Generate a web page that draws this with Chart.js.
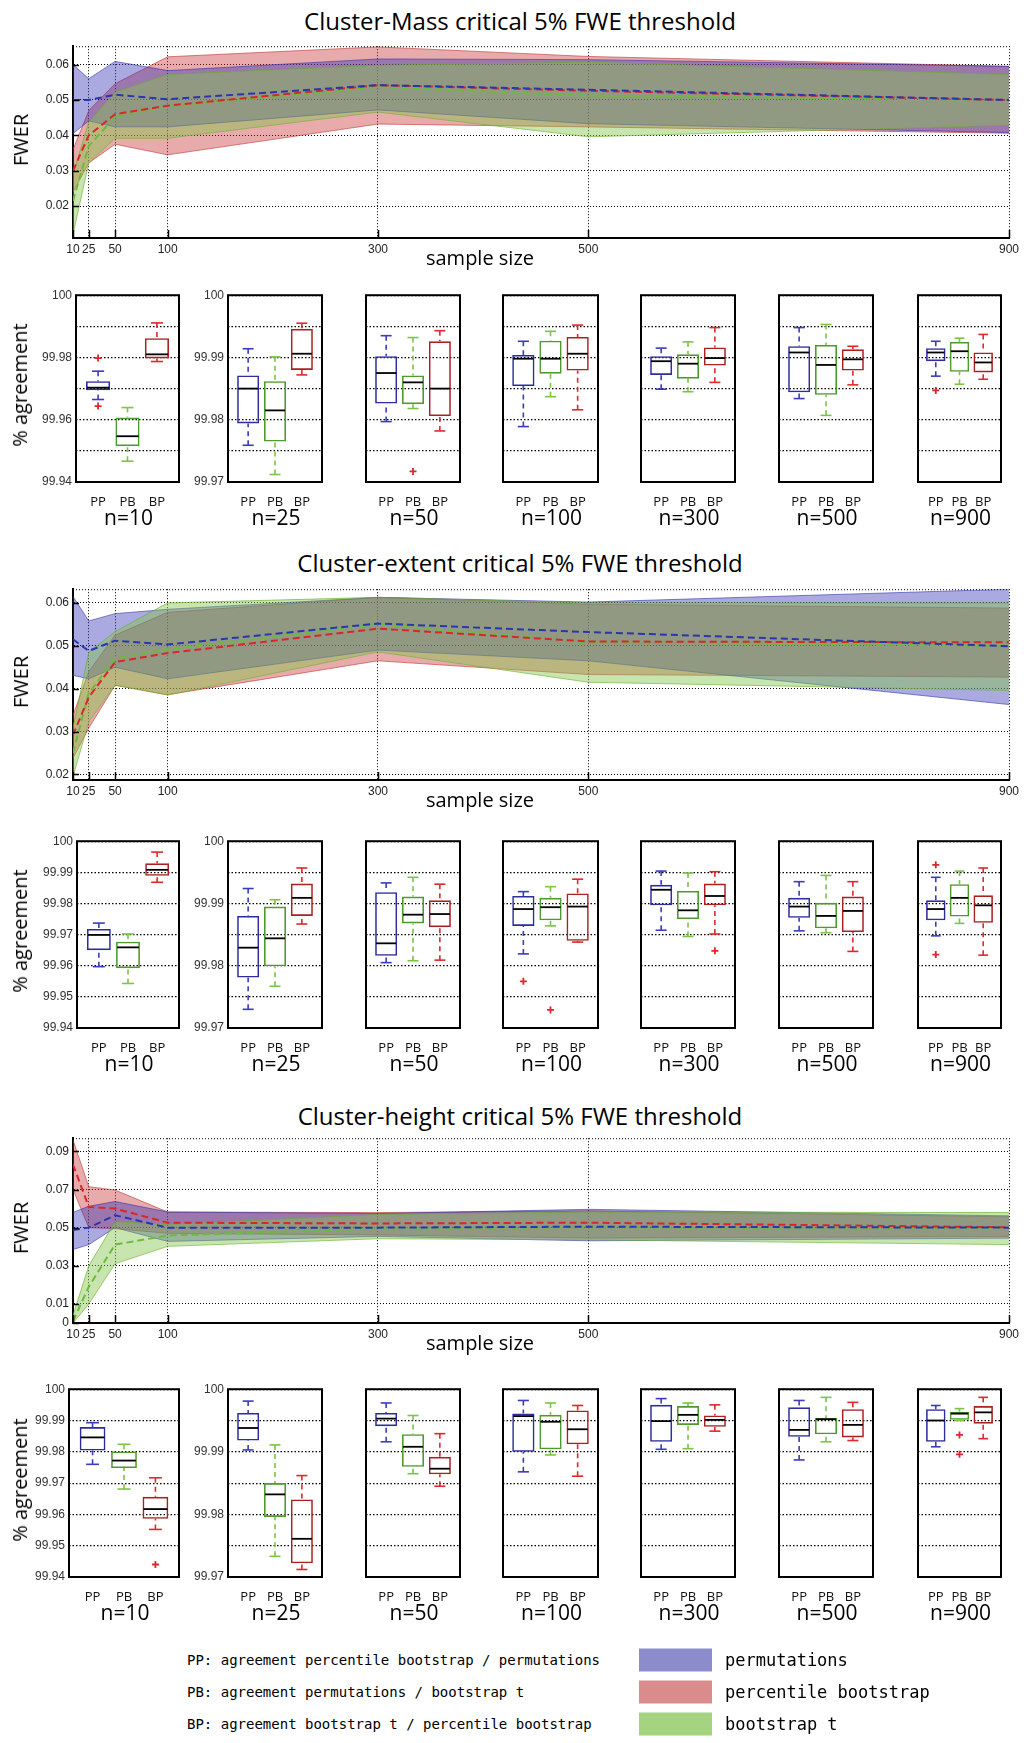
<!DOCTYPE html>
<html>
<head>
<meta charset="utf-8">
<script src="https://cdn.jsdelivr.net/npm/chart.js@4.4.1/dist/chart.umd.min.js"></script>
<style>
  body { margin: 0; width: 1024px; height: 1743px; position: relative; background: #fff; overflow: hidden; font-family: 'Open Sans', sans-serif; }
  canvas { position: absolute; }
  .txt { position: absolute; white-space: nowrap; transform: translate(-50%, -50%); color: #000; line-height: 1; }
  .rot { transform: translate(-50%, -50%) rotate(-90deg); }
  .leg { position: absolute; white-space: nowrap; transform: translateY(-50%); color: #000; line-height: 1; font-family: 'DejaVu Sans Mono', monospace; }
  .sw { position: absolute; width: 73px; height: 23px; transform: translateY(-50%); }
</style>
</head>
<body>
<script>
// x axis of the FWER plots
const sampleSizes = [10, 25, 50, 100, 300, 500, 900];
const methods = ['PP', 'PB', 'BP'];
const nLabels = ['n=10', 'n=25', 'n=50', 'n=100', 'n=300', 'n=500', 'n=900'];

// FWER y ticks
const fwerTicks = [0.02, 0.03, 0.04, 0.05, 0.06];
const heightFwerTicks = [0, 0.01, 0.03, 0.05, 0.07, 0.09];

// % agreement ticks
const pctTicks10 = [99.94, 99.95, 99.96, 99.97, 99.98, 99.99, 100];
const pctTicks25 = [99.97, 99.975, 99.98, 99.985, 99.99, 99.995, 100];
const massLabels10 = ['99.94', '', '99.96', '', '99.98', '', '100'];
const allLabels10 = ['99.94', '99.95', '99.96', '99.97', '99.98', '99.99', '100'];
const labels25 = ['99.97', '', '99.98', '', '99.99', '', '100'];

// Cluster-Mass FWER (mean and band) per sample size
const massPermMean = [0.0500, 0.0500, 0.0515, 0.0502, 0.0542, 0.0529, 0.0500];
const massPermLo   = [0.0405, 0.0441, 0.0424, 0.0424, 0.0472, 0.0433, 0.0408];
const massPermHi   = [0.0600, 0.0560, 0.0609, 0.0583, 0.0616, 0.0614, 0.0595];
const massPercMean = [0.0300, 0.0400, 0.0460, 0.0484, 0.0542, 0.0526, 0.0500];
const massPercLo   = [0.0240, 0.0322, 0.0375, 0.0345, 0.0432, 0.0424, 0.0406];
const massPercHi   = [0.0360, 0.0470, 0.0546, 0.0622, 0.0650, 0.0623, 0.0595];
const massBootMean = [0.0215, 0.0370, 0.0452, 0.0482, 0.0537, 0.0512, 0.0500];
const massBootLo   = [0.0120, 0.0322, 0.0392, 0.0392, 0.0466, 0.0396, 0.0429];
const massBootHi   = [0.0290, 0.0438, 0.0522, 0.0572, 0.0598, 0.0607, 0.0572];

// Cluster-extent FWER
const extPermMean = [0.0515, 0.0488, 0.0512, 0.0503, 0.0552, 0.0532, 0.0499];
const extPermLo   = [0.0431, 0.0423, 0.0450, 0.0423, 0.0490, 0.0465, 0.0363];
const extPermHi   = [0.0615, 0.0558, 0.0575, 0.0585, 0.0613, 0.0602, 0.0632];
const extPercMean = [0.0292, 0.0380, 0.0462, 0.0483, 0.0540, 0.0510, 0.0508];
const extPercLo   = [0.0238, 0.0308, 0.0408, 0.0386, 0.0465, 0.0433, 0.0427];
const extPercHi   = [0.0338, 0.0440, 0.0525, 0.0578, 0.0613, 0.0597, 0.0588];
const extBootMean = [0.0250, 0.0390, 0.0470, 0.0492, 0.0550, 0.0508, 0.0500];
const extBootLo   = [0.0195, 0.0323, 0.0408, 0.0385, 0.0486, 0.0415, 0.0396];
const extBootHi   = [0.0308, 0.0485, 0.0533, 0.0600, 0.0613, 0.0600, 0.0600];

// Cluster-height FWER
const htPermMean = [0.0488, 0.0500, 0.0565, 0.0500, 0.0500, 0.0505, 0.0500];
const htPermLo   = [0.0385, 0.0411, 0.0500, 0.0428, 0.0454, 0.0431, 0.0445];
const htPermHi   = [0.0580, 0.0612, 0.0637, 0.0582, 0.0574, 0.0596, 0.0562];
const htPercMean = [0.0831, 0.0608, 0.0600, 0.0526, 0.0522, 0.0526, 0.0502];
const htPercLo   = [0.0700, 0.0500, 0.0495, 0.0470, 0.0462, 0.0445, 0.0454];
const htPercHi   = [0.0960, 0.0715, 0.0697, 0.0582, 0.0579, 0.0588, 0.0557];
const htBootMean = [0.0010, 0.0190, 0.0411, 0.0459, 0.0495, 0.0502, 0.0497];
const htBootLo   = [0.0000, 0.0100, 0.0311, 0.0402, 0.0442, 0.0436, 0.0411];
const htBootHi   = [0.0040, 0.0300, 0.0531, 0.0517, 0.0569, 0.0582, 0.0579];

// % agreement boxplots: [whisker low, q1, median, q3, whisker high] for n = 10..900
const massPP = [[99.9665, 99.9695, 99.9703, 99.9724, 99.9756], [99.9759, 99.9794, 99.9850, 99.9871, 99.9914],
  [99.9797, 99.9826, 99.9875, 99.9902, 99.9935], [99.9789, 99.9854, 99.9898, 99.9904, 99.9926],
  [99.9849, 99.9872, 99.9894, 99.9902, 99.9915], [99.9834, 99.9844, 99.9908, 99.9918, 99.9948],
  [99.9870, 99.9894, 99.9908, 99.9915, 99.9926]];
const massPB = [[99.9467, 99.9515, 99.9547, 99.9607, 99.9639], [99.9712, 99.9765, 99.9815, 99.9862, 99.9901],
  [99.9818, 99.9825, 99.9860, 99.9871, 99.9932], [99.9837, 99.9874, 99.9898, 99.9927, 99.9942],
  [99.9845, 99.9866, 99.9890, 99.9905, 99.9925], [99.9807, 99.9840, 99.9888, 99.9920, 99.9953],
  [99.9857, 99.9877, 99.9910, 99.9925, 99.9931]];
const massBP = [[99.9787, 99.9797, 99.9810, 99.9862, 99.9911], [99.9872, 99.9880, 99.9906, 99.9946, 99.9955],
  [99.9782, 99.9806, 99.9850, 99.9926, 99.9943], [99.9816, 99.9879, 99.9906, 99.9933, 99.9952],
  [99.9860, 99.9887, 99.9899, 99.9916, 99.9948], [99.9856, 99.9879, 99.9897, 99.9913, 99.9918],
  [99.9865, 99.9876, 99.9892, 99.9908, 99.9937]];
const massOutliers = [{n: 10, m: 'PP', v: 99.9798}, {n: 10, m: 'PP', v: 99.9644},
  {n: 50, m: 'PB', v: 99.9717}, {n: 900, m: 'PP', v: 99.9847}];

const extPP = [[99.9597, 99.9650, 99.9699, 99.9718, 99.9737], [99.9730, 99.9781, 99.9829, 99.9880, 99.9924],
  [99.9805, 99.9816, 99.9836, 99.9918, 99.9933], [99.9819, 99.9864, 99.9891, 99.9912, 99.9919],
  [99.9857, 99.9897, 99.9922, 99.9930, 99.9952], [99.9856, 99.9877, 99.9895, 99.9909, 99.9935],
  [99.9848, 99.9873, 99.9891, 99.9905, 99.9942]];
const extPB = [[99.9543, 99.9592, 99.9659, 99.9677, 99.9702], [99.9767, 99.9799, 99.9844, 99.9895, 99.9906],
  [99.9808, 99.9868, 99.9882, 99.9911, 99.9942], [99.9864, 99.9873, 99.9894, 99.9909, 99.9927],
  [99.9847, 99.9875, 99.9889, 99.9920, 99.9949], [99.9853, 99.9860, 99.9880, 99.9901, 99.9945],
  [99.9868, 99.9879, 99.9909, 99.9931, 99.9952]];
const extBP = [[99.9868, 99.9889, 99.9908, 99.9929, 99.9965], [99.9867, 99.9880, 99.9909, 99.9932, 99.9957],
  [99.9809, 99.9862, 99.9883, 99.9905, 99.9931], [99.9838, 99.9840, 99.9895, 99.9916, 99.9939],
  [99.9851, 99.9897, 99.9912, 99.9932, 99.9951], [99.9823, 99.9854, 99.9888, 99.9911, 99.9935],
  [99.9817, 99.9869, 99.9897, 99.9913, 99.9957]];
const extOutliers = [{n: 100, m: 'PP', v: 99.9775}, {n: 100, m: 'PB', v: 99.9729},
  {n: 300, m: 'BP', v: 99.9824}, {n: 900, m: 'PP', v: 99.9962}, {n: 900, m: 'PP', v: 99.9818}];

const htPP = [[99.9760, 99.9804, 99.9846, 99.9879, 99.9893], [99.9903, 99.9918, 99.9938, 99.9962, 99.9981],
  [99.9916, 99.9941, 99.9953, 99.9962, 99.9978], [99.9868, 99.9900, 99.9957, 99.9961, 99.9982],
  [99.9904, 99.9916, 99.9949, 99.9975, 99.9985], [99.9887, 99.9924, 99.9935, 99.9971, 99.9982],
  [99.9908, 99.9916, 99.9950, 99.9968, 99.9974]];
const htPB = [[99.9681, 99.9748, 99.9772, 99.9801, 99.9824], [99.9733, 99.9796, 99.9832, 99.9850, 99.9911],
  [99.9865, 99.9876, 99.9908, 99.9928, 99.9958], [99.9895, 99.9904, 99.9948, 99.9959, 99.9978],
  [99.9905, 99.9943, 99.9959, 99.9973, 99.9978], [99.9916, 99.9928, 99.9952, 99.9954, 99.9987],
  [99.9950, 99.9951, 99.9961, 99.9964, 99.9969]];
const htBP = [[99.9552, 99.9586, 99.9617, 99.9656, 99.9717], [99.9712, 99.9722, 99.9761, 99.9824, 99.9862],
  [99.9845, 99.9864, 99.9873, 99.9892, 99.9929], [99.9861, 99.9912, 99.9936, 99.9966, 99.9974],
  [99.9933, 99.9940, 99.9951, 99.9958, 99.9975], [99.9918, 99.9923, 99.9943, 99.9968, 99.9979],
  [99.9921, 99.9945, 99.9963, 99.9973, 99.9987]];
const htOutliers = [{n: 10, m: 'BP', v: 99.9440}, {n: 900, m: 'PB', v: 99.9927}, {n: 900, m: 'PB', v: 99.9896}];

Chart.defaults.font.family = 'Liberation Sans';
Chart.defaults.color = '#222';

// colours: permutations, percentile bootstrap, bootstrap t
const bandFill = ['rgba(42,42,180,0.40)', 'rgba(198,42,42,0.40)', 'rgba(133,195,77,0.45)'];
const bandEdge = ['rgba(50,50,170,0.75)', 'rgba(190,50,50,0.75)', 'rgba(100,175,40,0.8)'];
// drawing layer of each band: red at the back, blue, green in front
const bandOrder = [2, 3, 1];
const meanColor = ['#2a36ad', '#d8262b', '#6cbb3c'];
const boxColor = ['#2d2d9c', '#4f9a2e', '#a82222'];
const whiskerColor = ['#3b3bbf', '#7cc444', '#e0282c'];

const sections = [
  {title: 'Cluster-Mass critical 5% FWE threshold', titleY: 21, top: 43, bottom: 238, yMin: 0.011, yMax: 0.0652,
   yTicks: fwerTicks, mean: [massPermMean, massPercMean, massBootMean], lo: [massPermLo, massPercLo, massBootLo],
   hi: [massPermHi, massPercHi, massBootHi], boxTop: 292, boxBottom: 482, first: 76,
   box: [massPP, massPB, massBP], outliers: massOutliers, labels10: massLabels10},
  {title: 'Cluster-extent critical 5% FWE threshold', titleY: 563, top: 586, bottom: 780, yMin: 0.0187, yMax: 0.0632,
   yTicks: fwerTicks, mean: [extPermMean, extPercMean, extBootMean], lo: [extPermLo, extPercLo, extBootLo],
   hi: [extPermHi, extPercHi, extBootHi], boxTop: 838, boxBottom: 1028, first: 77,
   box: [extPP, extPB, extBP], outliers: extOutliers, labels10: allLabels10},
  {title: 'Cluster-height critical 5% FWE threshold', titleY: 1116, top: 1135, bottom: 1323, yMin: 0, yMax: 0.0969,
   yTicks: heightFwerTicks, mean: [htPermMean, htPercMean, htBootMean], lo: [htPermLo, htPercLo, htBootLo],
   hi: [htPermHi, htPercHi, htBootHi], boxTop: 1386, boxBottom: 1577, first: 69,
   box: [htPP, htPB, htBP], outliers: htOutliers, labels10: allLabels10}
];
const panelLeft = [76, 228, 366, 503, 641, 779, 918];
const panelRight = [179, 322, 460, 598, 735, 873, 1001];

function addCanvas(left, top, w, h) {
  const c = document.createElement('canvas');
  c.width = w; c.height = h;
  c.style.left = left + 'px'; c.style.top = top + 'px';
  c.style.width = w + 'px'; c.style.height = h + 'px';
  document.body.appendChild(c);
  return c;
}

function addText(text, x, y, size, cls) {
  const d = document.createElement('div');
  d.className = 'txt' + (cls ? ' ' + cls : '');
  d.textContent = text;
  d.style.left = x + 'px'; d.style.top = y + 'px';
  d.style.fontSize = size + 'px';
  document.body.appendChild(d);
}

function pts(arr) {
  return sampleSizes.map((x, i) => ({x: x, y: arr[i]}));
}

// dotted top edge and inward tick marks of the FWER plots
const fwerFrame = {
  id: 'fwerFrame',
  afterDraw(chart) {
    const {ctx, chartArea: a, scales: {x, y}} = chart;
    ctx.save();
    ctx.strokeStyle = '#000';
    ctx.lineWidth = 1;
    ctx.setLineDash([1, 2]);
    ctx.beginPath(); ctx.moveTo(a.left, a.top + 0.5); ctx.lineTo(a.right, a.top + 0.5); ctx.stroke();
    ctx.setLineDash([]);
    ctx.lineWidth = 1.5;
    x.ticks.forEach(t => {
      const px = Math.round(x.getPixelForValue(t.value)) + 0.5;
      ctx.beginPath(); ctx.moveTo(px, a.bottom); ctx.lineTo(px, a.bottom - 8); ctx.stroke();
    });
    y.ticks.forEach(t => {
      const py = Math.round(y.getPixelForValue(t.value)) + 0.5;
      ctx.beginPath(); ctx.moveTo(a.left, py); ctx.lineTo(a.left + 6, py); ctx.stroke();
    });
    ctx.restore();
  }
};

function fwerChart(s) {
  const c = addCanvas(0, s.top - 8, 1024, s.bottom - s.top + 32);
  const datasets = [];
  for (let k = 0; k < 3; k++) {
    datasets.push({data: pts(s.mean[k]), borderColor: meanColor[k], borderDash: [7, 4], borderWidth: 2, fill: false, order: 0});
  }
  for (let k = 0; k < 3; k++) {
    datasets.push({data: pts(s.hi[k]), borderColor: bandEdge[k], borderWidth: 0.8, backgroundColor: bandFill[k], fill: '+1', order: bandOrder[k]});
    datasets.push({data: pts(s.lo[k]), borderColor: bandEdge[k], borderWidth: 0.8, fill: false, order: bandOrder[k]});
  }
  new Chart(c, {
    type: 'line',
    data: {datasets: datasets},
    options: {
      responsive: false, animation: false, devicePixelRatio: 1,
      layout: {padding: {top: 8, right: 15, left: 0, bottom: 0}},
      plugins: {legend: {display: false}, tooltip: {enabled: false}},
      elements: {point: {radius: 0}, line: {tension: 0}},
      scales: {
        x: {
          type: 'linear', min: 10, max: 900, z: 1,
          afterBuildTicks: sc => { sc.ticks = sampleSizes.map(v => ({value: v})); },
          afterFit: sc => { sc.height = 24; },
          ticks: {autoSkip: false, maxRotation: 0, padding: 4, color: '#222', font: {size: 12}},
          grid: {color: '#000', lineWidth: 1, drawTicks: false},
          border: {display: true, color: '#000', width: 2, dash: [1, 2]}
        },
        y: {
          type: 'linear', min: s.yMin, max: s.yMax, z: 1,
          afterBuildTicks: sc => { sc.ticks = s.yTicks.map(v => ({value: v})); },
          afterFit: sc => { sc.width = 73; },
          ticks: {padding: 4, color: '#222', font: {size: 12}, callback: v => String(v)},
          grid: {color: '#000', lineWidth: 1, drawTicks: false},
          border: {display: true, color: '#000', width: 2, dash: [1, 2]}
        }
      }
    },
    plugins: [fwerFrame]
  });
}

// whiskers, caps, medians and a solid frame for each boxplot panel
function boxExtras(st) {
  return {
    id: 'boxExtras',
    afterDatasetsDraw(chart) {
      const {ctx, scales: {x, y}} = chart;
      const bars = chart.getDatasetMeta(0).data;
      const seg = (x1, y1, x2, y2) => { ctx.beginPath(); ctx.moveTo(x1, y1); ctx.lineTo(x2, y2); ctx.stroke(); };
      ctx.save();
      st.forEach((s, i) => {
        const cx = x.getPixelForValue(i + 1);
        const w = bars[i].width;
        const cap = w * 0.5;
        ctx.lineWidth = 1.6;
        ctx.strokeStyle = whiskerColor[i];
        ctx.setLineDash([5, 4]);
        if (s[4] > s[3]) seg(cx, y.getPixelForValue(s[4]), cx, y.getPixelForValue(s[3]));
        if (s[0] < s[1]) seg(cx, y.getPixelForValue(s[0]), cx, y.getPixelForValue(s[1]));
        ctx.setLineDash([]);
        seg(cx - cap / 2, y.getPixelForValue(s[4]), cx + cap / 2, y.getPixelForValue(s[4]));
        seg(cx - cap / 2, y.getPixelForValue(s[0]), cx + cap / 2, y.getPixelForValue(s[0]));
        ctx.strokeStyle = '#000';
        ctx.lineWidth = 1.8;
        const my = y.getPixelForValue(s[2]);
        seg(cx - w / 2 + 1, my, cx + w / 2 - 1, my);
      });
      ctx.restore();
    },
    afterDraw(chart) {
      const {ctx, chartArea: a} = chart;
      ctx.save();
      ctx.strokeStyle = '#000';
      ctx.lineWidth = 2;
      ctx.strokeRect(a.left, a.top, a.right - a.left, a.bottom - a.top);
      ctx.restore();
    }
  };
}

function boxChart(s, p) {
  const L = p === 0 ? s.first : panelLeft[p];
  const R = panelRight[p];
  const c = addCanvas(L - 56, s.boxTop - 8, R - L + 62, s.boxBottom - s.boxTop + 32);
  const st = [s.box[0][p], s.box[1][p], s.box[2][p]];
  const outs = s.outliers.filter(o => o.n === sampleSizes[p]);
  const ticks = p === 0 ? pctTicks10 : pctTicks25;
  const labels = p === 0 ? s.labels10 : (p === 1 ? labels25 : ticks.map(() => ''));
  new Chart(c, {
    type: 'bar',
    data: {
      datasets: [
        {type: 'bar', data: st.map((v, i) => ({x: i + 1, y: [v[1], v[3]]})),
         backgroundColor: 'rgba(0,0,0,0)', borderColor: boxColor, borderWidth: 1.6, borderSkipped: false,
         barPercentage: 0.82, categoryPercentage: 1, order: 1},
        {type: 'scatter', data: outs.map(o => ({x: methods.indexOf(o.m) + 1, y: o.v})),
         pointStyle: 'cross', pointRadius: 3.5, pointBorderColor: '#e0262b', pointBorderWidth: 1.8, order: 0}
      ]
    },
    options: {
      responsive: false, animation: false, devicePixelRatio: 1,
      layout: {padding: {top: 8, right: 6, left: 0, bottom: 0}},
      plugins: {legend: {display: false}, tooltip: {enabled: false}},
      scales: {
        x: {
          type: 'linear', min: 0.25, max: 3.75, offset: false,
          afterBuildTicks: sc => { sc.ticks = [1, 2, 3].map(v => ({value: v})); },
          afterFit: sc => { sc.height = 24; },
          ticks: {autoSkip: false, maxRotation: 0, padding: 4, color: '#111',
                  font: {family: 'Open Sans', size: 13}, callback: v => methods[v - 1]},
          grid: {display: false},
          border: {display: false}
        },
        y: {
          type: 'linear', min: ticks[0], max: ticks[ticks.length - 1],
          afterBuildTicks: sc => { sc.ticks = ticks.map(v => ({value: v})); },
          afterFit: sc => { sc.width = 56; },
          ticks: {padding: 4, color: '#333', font: {size: 12}, callback: (v, i) => labels[i]},
          grid: {color: '#000', lineWidth: 1.2, drawTicks: false},
          border: {display: false, dash: [1.5, 2]}
        }
      }
    },
    plugins: [boxExtras(st)]
  });
}

sections.forEach(s => {
  addText(s.title, 520, s.titleY, 24);
  fwerChart(s);
  addText('FWER', 21, (s.top + s.bottom) / 2 - 1, 20, 'rot');
  addText('sample size', 480, s.bottom + 20, 20);
  for (let p = 0; p < 7; p++) {
    boxChart(s, p);
    const L = p === 0 ? s.first : panelLeft[p];
    addText(nLabels[p], (L + panelRight[p]) / 2 + 1, s.boxBottom + 35, 21);
  }
  addText('% agreement', 20, (s.boxTop + s.boxBottom) / 2 - 2, 20, 'rot');
});

// legend
const legendLines = ['PP: agreement percentile bootstrap / permutations',
  'PB: agreement permutations / bootstrap t',
  'BP: agreement bootstrap t / percentile bootstrap'];
const legendNames = ['permutations', 'percentile bootstrap', 'bootstrap t'];
const swatch = ['rgb(140,140,205)', 'rgb(218,140,140)', 'rgb(165,212,128)'];
legendLines.forEach((t, i) => {
  const y = 1660 + i * 32;
  const d = document.createElement('div');
  d.className = 'leg';
  d.style.left = '187px'; d.style.top = y + 'px';
  d.style.fontSize = '14px';
  d.textContent = t;
  document.body.appendChild(d);
  const sw = document.createElement('div');
  sw.className = 'sw';
  sw.style.left = '639px'; sw.style.top = y + 'px';
  sw.style.background = swatch[i];
  document.body.appendChild(sw);
  const n = document.createElement('div');
  n.className = 'leg';
  n.style.left = '725px'; n.style.top = y + 'px';
  n.style.fontSize = '17px';
  n.textContent = legendNames[i];
  document.body.appendChild(n);
});
</script>
</body>
</html>
